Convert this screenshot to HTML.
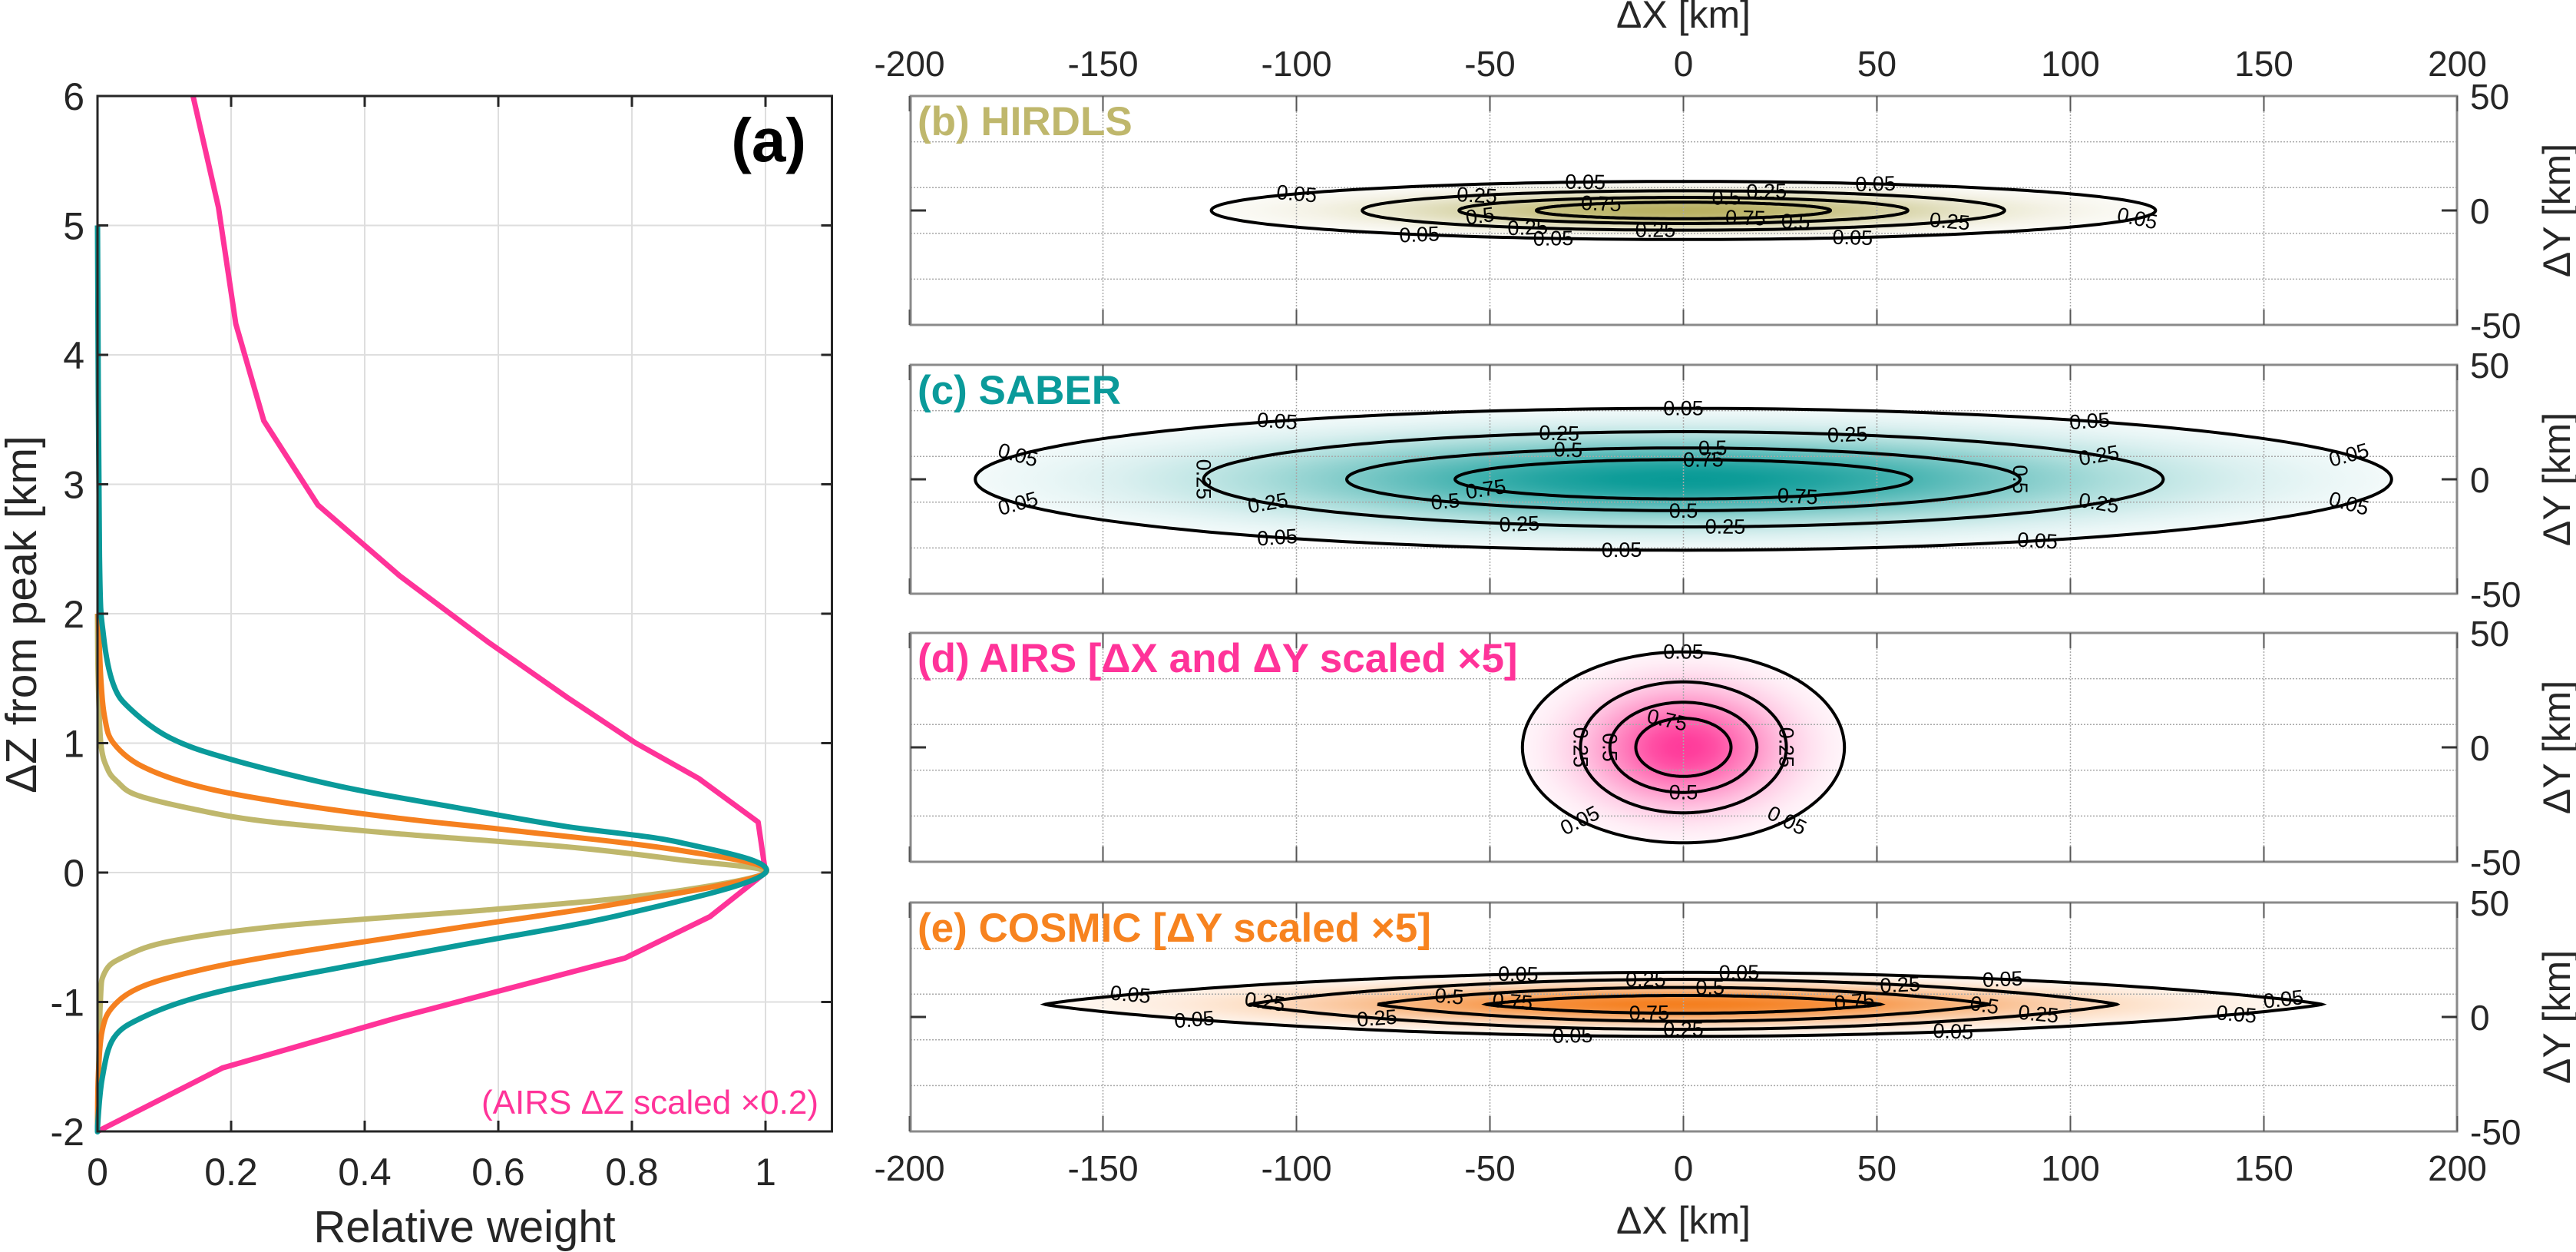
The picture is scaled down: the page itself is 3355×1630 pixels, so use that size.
<!DOCTYPE html>
<html><head><meta charset="utf-8"><style>
html,body{margin:0;padding:0;background:#fff;}
svg{display:block;font-family:"Liberation Sans",Arial,sans-serif;}
</style></head><body>
<svg id="fig" width="3355" height="1630" viewBox="0 0 3355 1630" xmlns="http://www.w3.org/2000/svg">
<defs id="defs"></defs>
<g id="left"></g>
<g id="right"></g>
</svg>
<script>
// ---- Panel (a) data: vertical weighting functions ----
const hirdlsZ = [-2,-1.03,-0.77,-0.65,-0.53,-0.41,-0.29,-0.17,0,0.1,0.2,0.3,0.4,0.5,0.6,0.7,0.8,1.0,1.5,2];
const hirdlsW = [0,0.004,0.011,0.04,0.11,0.28,0.58,0.83,1,0.87,0.70,0.45,0.245,0.135,0.058,0.03,0.015,0.005,0.001,0];
const cosmicZ = [-2,-1.59,-1.22,-1.03,-0.88,-0.755,-0.63,-0.43,-0.23,0,0.17,0.326,0.42,0.54,0.665,0.82,1.0,1.19,1.5,2];
const cosmicW = [0,0.001,0.007,0.024,0.067,0.152,0.28,0.534,0.79,1,0.874,0.62,0.45,0.28,0.152,0.067,0.024,0.011,0.005,0.001];
const saberZ = [-2,-1.96,-1.59,-1.28,-1.12,-0.96,-0.815,-0.57,-0.32,0,0.23,0.357,0.505,0.665,0.88,1.04,1.26,1.45,1.83,2.44,5];
const saberW = [0,0,0.007,0.024,0.067,0.152,0.28,0.534,0.79,1,0.874,0.70,0.534,0.364,0.196,0.109,0.05,0.024,0.009,0.003,0];
const airsZ = [-2,-1.51,-1.12,-0.66,-0.34,0,0.39,0.727,1.0,1.35,1.78,2.29,2.84,3.49,4.24,5.14,6.0];
const airsW = [0,0.187,0.45,0.79,0.917,1,0.989,0.90,0.806,0.704,0.585,0.453,0.33,0.249,0.207,0.181,0.143];
const leftXTicks = [0,0.2,0.4,0.6,0.8,1];
const leftXTickLabels = ["0","0.2","0.4","0.6","0.8","1"];
const leftYTicks = [-2,-1,0,1,2,3,4,5,6];

// ---- Panels (b)-(e) data: contour semi-axes [km] for each level ----
const levels = [0.05,0.25,0.5,0.75];
const levelLabels = ["0.05","0.25","0.5","0.75"];
const hirdlsA = [122,83,58,38];
const hirdlsB = [12.7,8.6,5.7,3.6];
const saberA = [183,124,87,59];
const saberB = [31,20.8,13.7,8.6];
const airsA = [41.6,26.6,19,12.3];
const airsB = [41.7,28.6,19.7,12.7];
const cosmicA = [165,112,79,51];
const cosmicB = [14,10.9,7.4,3.9];
const cosmicCy = 5.5;
const rightXTicks = [-200,-150,-100,-50,0,50,100,150,200];
const rightYTicks = [50,0,-50];

const NS = "http://www.w3.org/2000/svg";
function mk(tag, attrs, parent){
  const e = document.createElementNS(NS, tag);
  for (const k in attrs) e.setAttribute(k, attrs[k]);
  if (parent) parent.appendChild(e);
  return e;
}
const L = document.getElementById('left');
const R = document.getElementById('right');
const defs = document.getElementById('defs');

// ---------- Panel (a) ----------
const LX0 = 127, LX1 = 1083.5, LY0 = 125, LY1 = 1473;
function lx(w){ return LX0 + 870*w; }
function ly(z){ return 1136 - 168.5*z; }

leftXTicks.forEach(v => {
  const g = mk('line',{x1:lx(v),x2:lx(v),y1:LY0,y2:LY1,stroke:'#dedede','stroke-width':2},L);
  
  
});
leftYTicks.forEach(v => {
  const g = mk('line',{x1:LX0,x2:LX1,y1:ly(v),y2:ly(v),stroke:'#dedede','stroke-width':2},L);
  
  
});
function drawCurve(zs, ws, color, name, smooth){
  const P = zs.map((z,i)=> [lx(ws[i]), ly(z)]);
  let d = 'M'+P[0][0].toFixed(1)+','+P[0][1].toFixed(1);
  for (let i=0;i<P.length-1;i++){
    if (!smooth){ d += 'L'+P[i+1][0].toFixed(1)+','+P[i+1][1].toFixed(1); continue; }
    const p0 = P[Math.max(0,i-1)], p1 = P[i], p2 = P[i+1], p3 = P[Math.min(P.length-1,i+2)];
    let c1x = p1[0]+(p2[0]-p0[0])/6, c1y = p1[1]+(p2[1]-p0[1])/6;
    let c2x = p2[0]-(p3[0]-p1[0])/6, c2y = p2[1]-(p3[1]-p1[1])/6;
    c1x = Math.max(LX0, c1x); c2x = Math.max(LX0, c2x);
    d += 'C'+c1x.toFixed(1)+','+c1y.toFixed(1)+' '+c2x.toFixed(1)+','+c2y.toFixed(1)+' '+p2[0].toFixed(1)+','+p2[1].toFixed(1);
  }
  const p = mk('path',{d:d,fill:'none',stroke:color,'stroke-width':7,'stroke-linejoin':'round'},L);
  
  
}
drawCurve(airsZ, airsW, '#ff3399', 'airs-weight-curve', false);
drawCurve(hirdlsZ, hirdlsW, '#bfb76c', 'hirdls-weight-curve', true);
drawCurve(cosmicZ, cosmicW, '#f5801f', 'cosmic-weight-curve', true);
drawCurve(saberZ, saberW, '#0a9a9a', 'saber-weight-curve', true);
const lf = mk('rect',{x:LX0,y:LY0,width:LX1-LX0,height:LY1-LY0,fill:'none',stroke:'#262626','stroke-width':3},L);


leftXTicks.forEach((v,i) => {
  mk('line',{x1:lx(v),x2:lx(v),y1:LY1,y2:LY1-14,stroke:'#262626','stroke-width':3},L);
  mk('line',{x1:lx(v),x2:lx(v),y1:LY0,y2:LY0+14,stroke:'#262626','stroke-width':3},L);
  const t = mk('text',{x:lx(v),y:1543,'font-size':50,'text-anchor':'middle',fill:'#262626'},L);
  t.textContent = leftXTickLabels[i];
  
  
});
leftYTicks.forEach(v => {
  mk('line',{x1:LX0,x2:LX0+14,y1:ly(v),y2:ly(v),stroke:'#262626','stroke-width':3},L);
  mk('line',{x1:LX1,x2:LX1-14,y1:ly(v),y2:ly(v),stroke:'#262626','stroke-width':3},L);
  const t = mk('text',{x:110,y:ly(v)+18,'font-size':50,'text-anchor':'end',fill:'#262626'},L);
  t.textContent = String(v);
  
  
});
</script>
<script>
(function(){
  const L = document.getElementById('left');
  const NS = "http://www.w3.org/2000/svg";
  function txt(x,y,s,attrs,name){
    const t = document.createElementNS(NS,'text');
    t.setAttribute('x',x); t.setAttribute('y',y);
    for (const k in attrs) t.setAttribute(k,attrs[k]);
    t.textContent = s;
    
    
    L.appendChild(t);
  }
  txt(605,1617,'Relative weight',{'font-size':58,'text-anchor':'middle',fill:'#262626'},'x-axis-title');
  txt(0,0,'ΔZ from peak [km]',{'font-size':57,'text-anchor':'middle',fill:'#262626',transform:'translate(47,800) rotate(-90)'},'y-axis-title');
  txt(1050,210,'(a)',{'font-size':80,'font-weight':'bold','text-anchor':'end',fill:'#000'},'panel-a-label');
  txt(1066,1450,'(AIRS ΔZ scaled ×0.2)',{'font-size':44,'text-anchor':'end',fill:'#ff3399'},'airs-scale-note');
})();
</script>
<script>
(function(){
const NS = "http://www.w3.org/2000/svg";
const R = document.getElementById('right');
const defs = document.getElementById('defs');
function mk(tag, attrs, parent){
  const e = document.createElementNS(NS, tag);
  for (const k in attrs) e.setAttribute(k, attrs[k]);
  if (parent) parent.appendChild(e);
  return e;
}
const PX0 = 1186, PX1 = 3200, PH = 298;
const panelTops = [125,475,824,1175];
function rx(km){ return 2192.5 + 5.04*km; }
function ry(km, top){ return top + PH/2 - 2.98*km; }

function mix(c, v){
  const r = Math.round(255 + (c[0]-255)*v), g = Math.round(255 + (c[1]-255)*v), b = Math.round(255 + (c[2]-255)*v);
  return `rgb(${r},${g},${b})`;
}
function makeGrad(id, col){
  const g = mk('radialGradient',{id:id,cx:0.5,cy:0.5,r:0.5},defs);
  for (let i=0;i<=10;i++){
    const f = i/10;
    const v = Math.pow(0.05, f*f);
    mk('stop',{offset:f,'stop-color':mix(col,v)},g);
  }
}

const panels = [
  {name:'hirdls', A:hirdlsA, B:hirdlsB, cy:0, q:1, col:[184,176,96], title:'(b) HIRDLS', tcol:'#bfb76c',
   labels:[[0,102],[0,66],[0,145],[0,344],[0,236],[0,254],[0,291],[1,130],[1,75],[1,241],[1,265],[1,326],[2,79],[2,205],[2,300],[3,124],[3,295]]},
  {name:'saber', A:saberA, B:saberB, cy:0, q:1, col:[8,154,150], title:'(c) SABER', tcol:'#0a9a9a',
   labels:[[0,90],[0,55],[0,125],[0,160],[0,20],[0,200],[0,235],[0,265],[0,300],[0,340],[1,180],[1,105],[1,70],[1,30],[1,210],[1,250],[1,275],[1,330],[2,110],[2,85],[2,0],[2,225],[2,270],[3,85],[3,210],[3,300]]},
  {name:'airs', A:airsA, B:airsB, cy:0, q:1, col:[255,58,154], title:'(d) AIRS [ΔX and ΔY scaled ×5]', tcol:'#ff3399',
   labels:[[0,90],[0,230],[0,310],[1,180],[1,0],[2,180],[2,270],[3,110]]},
  {name:'cosmic', A:cosmicA, B:cosmicB, cy:cosmicCy, q:1.7, col:[245,127,31], title:'(e) COSMIC [ΔY scaled ×5]', tcol:'#f7831f',
   labels:[[0,105],[0,85],[0,60],[0,150],[0,20],[0,220],[0,260],[0,295],[0,330],[1,95],[1,60],[1,165],[1,225],[1,270],[1,325],[2,140],[2,85],[2,350],[3,150],[3,30],[3,260]]}
];

function shapePath(a,b,cy,q,top){
  let d='';
  for (let i=0;i<=240;i++){
    const t = i/240*2*Math.PI;
    const s = Math.sin(t);
    const yk = cy + b*Math.sign(s)*Math.pow(Math.abs(s), q);
    const x = rx(a*Math.cos(t)), y = ry(yk, top);
    d += (i?'L':'M')+x.toFixed(1)+','+y.toFixed(1);
  }
  return d+'Z';
}

panels.forEach((p, pi) => {
  const top = panelTops[pi];
  const g = mk('g',{},R);
  
  
  const gid = 'grad-'+p.name;
  makeGrad(gid, p.col);
  const f = mk('path',{d:shapePath(p.A[0],p.B[0],p.cy,p.q,top),fill:`url(#${gid})`,stroke:'none'},g);
  
  
  rightXTicks.forEach(v => {
    if (v===-200||v===200) return;
    const l = mk('line',{x1:rx(v),x2:rx(v),y1:top,y2:top+PH,stroke:'#a8a8a8','stroke-width':1.5,'stroke-dasharray':'2,2'},g);
    
    
  });
  [30,10,-10,-30].forEach(v => {
    const l = mk('line',{x1:PX0,x2:PX1,y1:ry(v,top),y2:ry(v,top),stroke:'#a8a8a8','stroke-width':1.5,'stroke-dasharray':'2,2'},g);
    
    
  });
  levels.forEach((lv, li) => {
    const c = mk('path',{d:shapePath(p.A[li],p.B[li],p.cy,p.q,top),fill:'none',stroke:'#000','stroke-width':4},g);
    
    
  });
  p.labels.forEach(([li, deg]) => {
    const t = deg*Math.PI/180;
    const s = Math.sin(t);
    const a = p.A[li], b = p.B[li];
    const x = rx(a*Math.cos(t));
    const y = ry(p.cy + b*Math.sign(s)*Math.pow(Math.abs(s), p.q), top);
    const dx = -a*Math.sin(t)*5.04;
    const dy = b*Math.cos(t)*2.98*Math.max(0.3,p.q*Math.pow(Math.abs(s),p.q-1));
    let ang = Math.atan2(dy, dx)*180/Math.PI;
    if (ang>90) ang-=180; if (ang<-90) ang+=180;
    const tx = mk('text',{x:x.toFixed(1),y:(y+9).toFixed(1),'font-size':27,'text-anchor':'middle',fill:'#000',
      transform:`rotate(${ang.toFixed(1)} ${x.toFixed(1)} ${y.toFixed(1)})`},g);
    tx.textContent = levelLabels[li];
    
    
  });
  const fr = mk('rect',{x:PX0,y:top,width:PX1-PX0,height:PH,fill:'none',stroke:'#8a8a8a','stroke-width':3},g);
  
  
  rightXTicks.forEach(v => {
    mk('line',{x1:rx(v),x2:rx(v),y1:top+PH,y2:top+PH-20,stroke:'#555','stroke-width':2},g);
    mk('line',{x1:rx(v),x2:rx(v),y1:top,y2:top+20,stroke:'#555','stroke-width':2},g);
  });
  mk('line',{x1:PX0,x2:PX0+20,y1:ry(0,top),y2:ry(0,top),stroke:'#333','stroke-width':3},g);
  mk('line',{x1:PX1,x2:PX1-20,y1:ry(0,top),y2:ry(0,top),stroke:'#333','stroke-width':3},g);
  rightYTicks.forEach(v => {
    const t = mk('text',{x:3217,y:(ry(v,top)+17).toFixed(1),'font-size':46,fill:'#262626'},g);
    t.textContent = String(v);
    
    
  });
  const yt = mk('text',{x:0,y:0,'font-size':50,'text-anchor':'middle',fill:'#262626',transform:`translate(3347,${top+PH/2}) rotate(-90)`},g);
  yt.textContent = 'ΔY [km]';
  
  
  const tt = mk('text',{x:1195,y:top+51,'font-size':53,'font-weight':'bold',fill:p.tcol},g);
  tt.textContent = p.title;
  
  
});

rightXTicks.forEach(v => {
  const t1 = mk('text',{x:rx(v),y:99,'font-size':46,'text-anchor':'middle',fill:'#262626'},R);
  t1.textContent = String(v);
  
  
  const t2 = mk('text',{x:rx(v),y:1537,'font-size':46,'text-anchor':'middle',fill:'#262626'},R);
  t2.textContent = String(v);
  
  
});
const xt1 = mk('text',{x:2192.5,y:36,'font-size':50,'text-anchor':'middle',fill:'#262626'},R);
xt1.textContent = 'ΔX [km]';


const xt2 = mk('text',{x:2192.5,y:1606,'font-size':50,'text-anchor':'middle',fill:'#262626'},R);
xt2.textContent = 'ΔX [km]';


})();
</script>
</body></html>
